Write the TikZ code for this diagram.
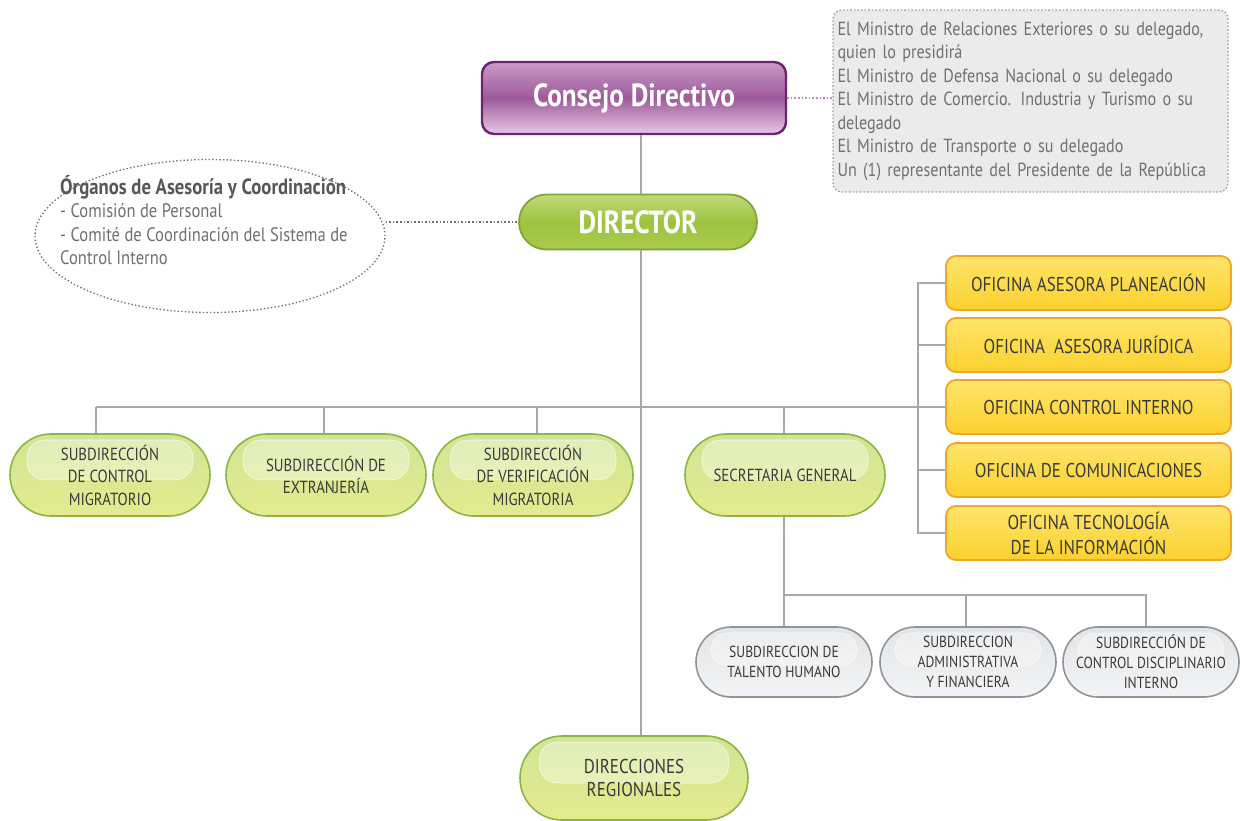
\documentclass[tikz,border=0pt]{standalone}
\usepackage{fontspec}
\setmainfont{PT Sans}[FakeStretch=0.85]
\usetikzlibrary{shapes.misc,shapes.geometric,calc}
\definecolor{linegray}{HTML}{A8A8A8}
\definecolor{txtdark}{HTML}{3A3A3A}
\definecolor{txtgray}{HTML}{707070}
\definecolor{purpedge}{HTML}{6E2272}
\definecolor{purptop}{HTML}{C99AC7}
\definecolor{purpmid}{HTML}{9E5A9B}
\definecolor{purpbot}{HTML}{E6C8E4}
\definecolor{infofill}{HTML}{EBEBEB}
\definecolor{infoedge}{HTML}{B88FBC}
\definecolor{greenedge}{HTML}{8DB446}
\definecolor{greentop}{HTML}{D0E594}
\definecolor{greenbot}{HTML}{E4EB8E}
\definecolor{dirtop}{HTML}{C0DA78}
\definecolor{dirmid}{HTML}{9DC240}
\definecolor{dirbot}{HTML}{A9CB4E}
\definecolor{diredge}{HTML}{7FA634}
\definecolor{orgedge}{HTML}{F0A62A}
\definecolor{orgtop}{HTML}{FDE46A}
\definecolor{orgbot}{HTML}{FCD12E}
\definecolor{grayedge}{HTML}{8E9499}
\definecolor{graytop}{HTML}{E2E4E6}
\definecolor{graybot}{HTML}{F3F4F5}
\tikzset{
  conn/.style={draw=linegray, line width=1.8pt},
  dotconn/.style={line width=1.5pt, dash pattern=on 1.6pt off 2pt},
  gloss/.style={path picture={
    \fill[white, fill opacity=0.35, draw=white, draw opacity=0.75, line width=0.6pt, rounded corners=18pt]
      let \p1=(path picture bounding box.north west), \p2=(path picture bounding box.south east) in
      ({\x1+0.085*(\x2-\x1)},{\y1-6pt}) rectangle ({\x2-0.085*(\x2-\x1)},{\y1-0.56*(\y1-\y2)});
  }},
  consejobox/.style={rectangle, rounded corners=12pt, draw=purpedge, line width=2.4pt,
    top color=purptop, bottom color=purpbot, middle color=purpmid,
    minimum width=304pt, minimum height=72pt, text=white,
    font=\fontsize{32}{36}\selectfont\bfseries},
  infobox/.style={rectangle, rounded corners=9pt, draw=infoedge, fill=infofill, line width=1.4pt,
    dash pattern=on 1.6pt off 2pt, text width=386pt, inner xsep=4.5pt, minimum height=182pt,
    align=left, text=txtgray, font=\fontsize{19}{23.5}\selectfont},
  directorbox/.style={rounded rectangle, draw=diredge, line width=1.8pt,
    top color=dirtop, bottom color=dirbot, middle color=dirmid,
    minimum width=238pt, minimum height=55pt, text=white, inner sep=0pt,
    font=\fontsize{32}{34}\selectfont\bfseries},
  greenpill/.style={rounded rectangle, draw=greenedge, line width=1.6pt,
    top color=greentop, bottom color=greenbot, gloss,
    minimum width=200pt, minimum height=82pt, inner sep=0pt, align=center, text=txtdark,
    font=\fontsize{17.5}{22.5}\selectfont},
  graypill/.style={rounded rectangle, draw=grayedge, line width=1.6pt,
    top color=graytop, bottom color=graybot, gloss,
    minimum width=176pt, minimum height=70pt, inner sep=0pt, align=center, text=txtdark,
    font=\fontsize{16}{20}\selectfont},
  orangebox/.style={rectangle, rounded corners=10pt, draw=orgedge, line width=1.8pt,
    top color=orgtop, bottom color=orgbot,
    minimum width=285pt, minimum height=54pt, inner sep=0pt, align=center, text=txtdark,
    font=\fontsize{20}{25}\selectfont},
  orgellipse/.style={ellipse, draw=txtgray, line width=1.3pt, dash pattern=on 1.4pt off 2.2pt,
    minimum width=350pt, minimum height=153pt, inner sep=0pt},
}
\begin{document}
\begin{tikzpicture}[x=1pt, y=-1pt]
\useasboundingbox (0,0) rectangle (1240,820);
% coordinates
\coordinate (trunk) at (641,0);
\coordinate (busL) at (96,407);
\coordinate (d2) at (324,407);
\coordinate (d3) at (537,407);
\coordinate (d4) at (784,407);
\coordinate (brk) at (918,0);
\coordinate (sgbus) at (784,595);
\coordinate (sgbusR) at (1146,595);
\coordinate (sgmid) at (966,595);
% nodes
\node[consejobox] (consejo) at (634,98) {Consejo Directivo};
\node[infobox] (info) at (1030.5,101) {El Ministro de Relaciones Exteriores o su delegado,\\quien lo presidirá\\El Ministro de Defensa Nacional o su delegado\\El Ministro de Comercio. Industria y Turismo o su\\delegado\\El Ministro de Transporte o su delegado\\Un (1) representante del Presidente de la República};
\node[directorbox] (director) at (638,222) {DIRECTOR};
\node[orgellipse] (orgE) at (210,236) {};
\node[align=left, text=txtgray, font=\fontsize{19.5}{23.5}\selectfont, anchor=west, inner sep=0pt] (orgT) at (60,220)
  {{\color{txtdark!85}\fontsize{22}{23.5}\selectfont\bfseries Órganos de Asesoría y Coordinación}\\- Comisión de Personal\\- Comité de Coordinación del Sistema de\\Control Interno};
\node[orangebox] (of1) at (1088.5,283) {OFICINA ASESORA PLANEACIÓN};
\node[orangebox] (of2) at (1088.5,345) {OFICINA\ \ ASESORA JURÍDICA};
\node[orangebox] (of3) at (1088.5,407) {OFICINA CONTROL INTERNO};
\node[orangebox] (of4) at (1088.5,470) {OFICINA DE COMUNICACIONES};
\node[orangebox] (of5) at (1088.5,533) {OFICINA TECNOLOGÍA\\DE LA INFORMACIÓN};
\node[greenpill] (sub1) at (110,475) {SUBDIRECCIÓN\\DE CONTROL\\MIGRATORIO};
\node[greenpill] (sub2) at (326,475) {SUBDIRECCIÓN DE\\EXTRANJERÍA};
\node[greenpill] (sub3) at (533,475) {SUBDIRECCIÓN\\DE VERIFICACIÓN\\MIGRATORIA};
\node[greenpill] (secgen) at (785,475) {SECRETARIA GENERAL};
\node[graypill] (g1) at (784,662) {SUBDIRECCION DE\\TALENTO HUMANO};
\node[graypill] (g2) at (968,662) {SUBDIRECCION\\ADMINISTRATIVA\\Y FINANCIERA};
\node[graypill] (g3) at (1151,662) {SUBDIRECCIÓN DE\\CONTROL DISCIPLINARIO\\INTERNO};
\node[greenpill, minimum width=228pt, minimum height=84pt, font=\fontsize{20}{23.5}\selectfont] (dirreg) at (634,778) {DIRECCIONES\\REGIONALES};
% connectors
\draw[conn] (consejo.south -| trunk) -- (director.north -| trunk);
\draw[conn] (director.south -| trunk) -- (dirreg.north -| trunk);
\draw[conn] (busL) -- (of3.west);
\draw[conn] (busL) -- (sub1.north -| busL);
\draw[conn] (d2) -- (sub2.north -| d2);
\draw[conn] (d3) -- (sub3.north -| d3);
\draw[conn] (d4) -- (secgen.north -| d4);
\draw[conn] (of1.west) -- (of1.west -| brk) -- (of5.west -| brk) -- (of5.west);
\draw[conn] (of2.west) -- (of2.west -| brk);
\draw[conn] (of4.west) -- (of4.west -| brk);
\draw[conn] (secgen.south -| sgbus) -- (sgbus) -- (sgbusR) -- (g3.north -| sgbusR);
\draw[conn] (sgbus) -- (g1.north -| sgbus);
\draw[conn] (sgmid) -- (g2.north -| sgmid);
\draw[dotconn, draw=infoedge] (consejo.east) -- (info.west |- consejo.east);
\draw[dotconn, draw=txtgray] (orgE.east |- director.west) -- (director.west);
\end{tikzpicture}
\end{document}
